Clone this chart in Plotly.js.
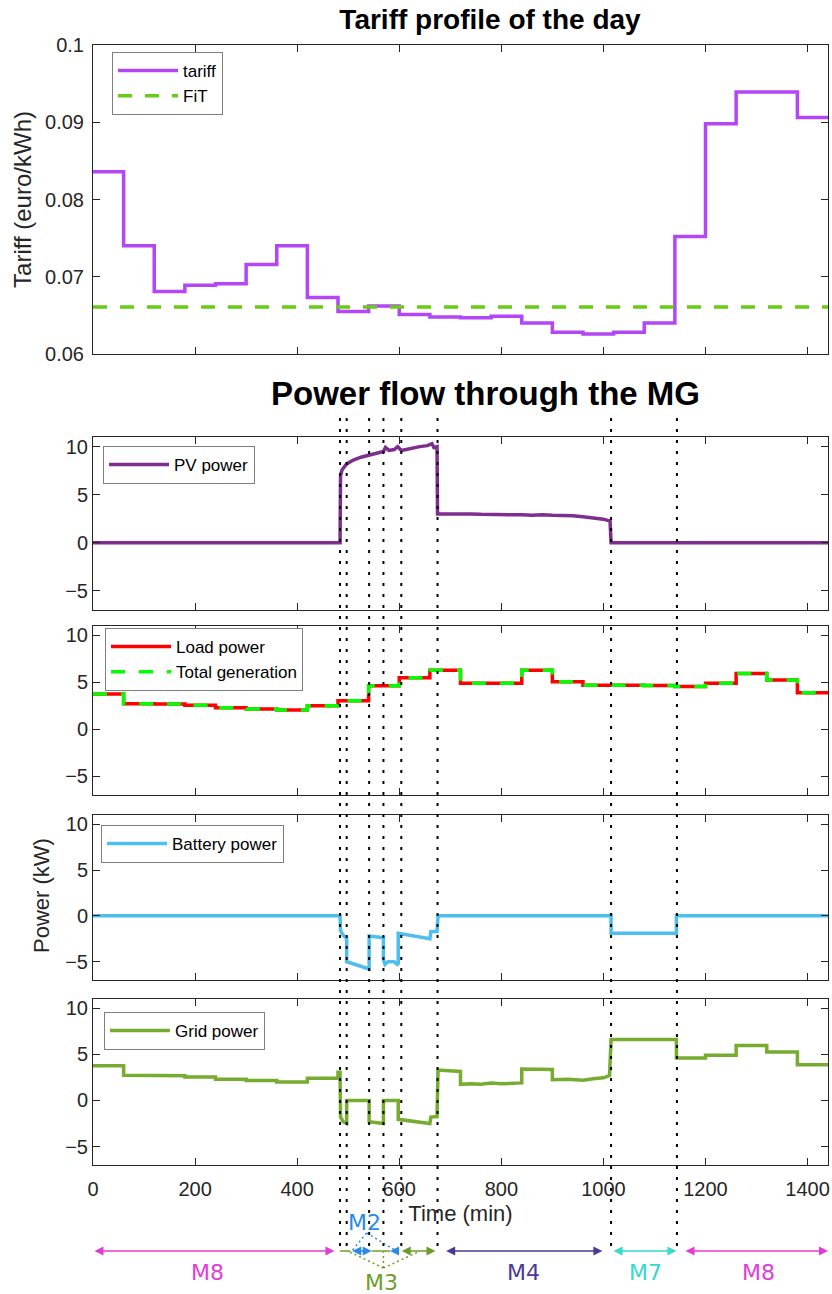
<!DOCTYPE html>
<html><head><meta charset="utf-8">
<script src="https://cdn.plot.ly/plotly-3.0.1.min.js"></script>
<style>html,body{margin:0;padding:0;background:#fff}#chart{width:832px;height:1294px}</style>
</head><body><div id="chart"></div>
<script>
// ---------- DATA ----------
const tariffTime  = [0,60,120,180,240,300,360,420,480,540,600,660,720,780,840,900,960,1020,1080,1140,1200,1260,1320,1380,1440];
const tariffValue = [0.0836,0.0740,0.0681,0.0689,0.0691,0.0716,0.0740,0.0673,0.0655,0.0662,0.0651,0.0648,0.0647,0.0649,0.0640,0.0628,0.0626,0.0628,0.0640,0.0752,0.0898,0.0939,0.0939,0.0906,0.0906];
const fitTime  = [0,1440];
const fitValue = [0.0661,0.0661];

const pvTime  = [0,484,485,488,497,510,525,541,555,569,573,580,590,597,604,620,640,655,664,668,674,675,700,720,740,760,780,800,820,840,860,880,900,920,940,960,980,1000,1013,1015,1440];
const pvPower = [0,0,7.0,7.6,8.2,8.6,8.9,9.1,9.3,9.5,9.9,9.6,9.7,10.0,9.6,9.8,10.0,10.1,10.3,9.9,10.0,3.0,3.0,3.05,3.0,2.95,2.95,2.95,2.9,2.9,2.85,2.9,2.85,2.85,2.8,2.7,2.6,2.45,2.25,0,0];

const loadTime  = [0,60,120,180,240,300,360,420,480,540,600,660,720,780,840,900,960,1020,1080,1140,1200,1260,1320,1380,1440];
const loadPower = [3.76,2.72,2.68,2.55,2.3,2.15,2.05,2.5,3.05,4.63,5.5,6.3,4.9,4.9,6.3,5.05,4.68,4.68,4.65,4.55,4.9,5.95,5.24,3.88,3.88];
const genPower  = [3.76,2.72,2.68,2.55,2.3,2.15,2.05,2.5,3.05,4.63,5.5,6.3,4.9,4.9,6.3,5.05,4.68,4.68,4.65,4.55,4.9,5.95,5.24,3.88,3.88];

const battTime  = [0,484,485,490,497,497,541,541,569,569,572,578,590,596,598,598,660,662,674,676,1015,1015,1143,1143,1440];
const battPower = [0,0,-1.6,-2.1,-2.45,-5.0,-5.8,-2.2,-2.4,-4.8,-5.3,-5.0,-5.0,-5.3,-5.2,-1.9,-2.5,-1.7,-1.7,0,0,-1.9,-1.9,0,0];

const gridTime  = [0,60,60,120,120,180,180,240,240,300,300,360,360,420,420,480,480,484,485,490,497,497,541,541,569,569,598,598,660,662,674,676,720,720,740,760,780,800,840,840,900,900,930,960,980,1000,1012,1015,1143,1143,1200,1200,1260,1260,1320,1320,1380,1380,1440];
const gridPower = [3.76,3.76,2.72,2.72,2.68,2.68,2.55,2.55,2.3,2.3,2.15,2.15,2.0,2.0,2.4,2.4,3.05,3.05,-1.8,-2.3,-2.5,0.0,0.0,-2.3,-2.5,0.0,0.0,-2.05,-2.5,-1.8,-1.75,3.3,3.15,1.75,1.8,1.75,1.9,1.8,1.9,3.4,3.35,2.25,2.3,2.2,2.35,2.45,2.7,6.6,6.6,4.6,4.6,4.9,4.9,5.95,5.95,5.24,5.24,3.88,3.88];

// mode switching instants (min)
const switchTimes = [484,497,541,569,604,675,1015,1144];
// operating-mode intervals drawn under the time axis
const modeName  = ['M8','M3','M2','M3','M2','M3','M4','M7','M8'];
const modeStart = [0,484,505,546,582,602,689,1017,1158];
const modeEnd   = [473,504,546,582,599,671,998,1143,1440];

// ---------- STYLE / LAYOUT ----------
const modeColor = {M8:'#e33cd6', M2:'#2a8ae6', M3:'#6e9c2b', M4:'#4b3a96', M7:'#34d9cf'};
const modeHeads = ['end+start','none','end+start','none','end','end+start','end+start','end+start','end+start'];

const W = 832, H = 1294, ML = 93, MR = 4, MT = 45, MB = 129;
const PH = H - MT - MB;
const py = px => (H - MB - px) / PH;       // pixel row -> paper y
const dom = (top, bot) => [py(bot), py(top)];

const tickFont = {family:'Liberation Sans, Arial, sans-serif', size:20, color:'#262626'};
const axBase = {
  showline:true, linecolor:'#262626', linewidth:1, mirror:'ticks',
  ticks:'inside', ticklen:7, tickcolor:'#262626', tickwidth:1,
  showgrid:false, zeroline:false, tickfont:tickFont, fixedrange:true
};
const xBase = Object.assign({}, axBase, {range:[0,1440], tickvals:[0,200,400,600,800,1000,1200,1400], showticklabels:false});
const yPow  = Object.assign({}, axBase, {range:[-7,11], tickvals:[-5,0,5,10]});

const traces = [
  {x:tariffTime, y:tariffValue, xaxis:'x', yaxis:'y', name:'tariff', legend:'legend',
   mode:'lines', line:{color:'#b347f5', width:3.5, shape:'hv'}},
  {x:fitTime, y:fitValue, xaxis:'x', yaxis:'y', name:'FiT', legend:'legend',
   mode:'lines', line:{color:'#66cc14', width:3.5, dash:'14px,13px'}},
  {x:pvTime, y:pvPower, xaxis:'x2', yaxis:'y2', name:'PV power', legend:'legend2',
   mode:'lines', line:{color:'#7e2f8e', width:3.5}},
  {x:loadTime, y:loadPower, xaxis:'x3', yaxis:'y3', name:'Load power', legend:'legend3',
   mode:'lines', line:{color:'#ff0000', width:3.5, shape:'hv'}},
  {x:loadTime, y:genPower, xaxis:'x3', yaxis:'y3', name:'Total generation', legend:'legend3',
   mode:'lines', line:{color:'#00ff00', width:3.5, shape:'hv', dash:'14px,14px'}},
  {x:battTime, y:battPower, xaxis:'x4', yaxis:'y4', name:'Battery power', legend:'legend4',
   mode:'lines', line:{color:'#4dbeee', width:3.5}},
  {x:gridTime, y:gridPower, xaxis:'x5', yaxis:'y5', name:'Grid power', legend:'legend5',
   mode:'lines', line:{color:'#77ac30', width:3.5}}
];

const legBase = {xanchor:'left', yanchor:'top', bgcolor:'#ffffff', bordercolor:'#7f7f7f', borderwidth:1,
  font:{family:'Liberation Sans, Arial, sans-serif', size:17, color:'#000'}, itemwidth:60, tracegroupgap:0};
const lg = (pxX, pxY) => Object.assign({}, legBase, {x:(pxX-ML)/(W-ML-MR), y:py(pxY)});

const shapes = [];
switchTimes.forEach((t, i) => {
  shapes.push({type:'line', xref:'x5', yref:'paper', x0:t, x1:t,
    y0:py(1246), y1:py(i < 6 ? 412 : 418),
    line:{color:'#000', width:2, dash:'3px,8px'}, layer:'above'});
});

const annotations = [];
modeName.forEach((m, i) => {
  const yA = py(1251);
  if (modeHeads[i] === 'none') {
    shapes.push({type:'line', xref:'x5', yref:'paper', x0:modeStart[i], x1:modeEnd[i], y0:yA, y1:yA,
      line:{color:modeColor[m], width:1.5}});
  } else if (modeHeads[i] === 'end') {
    annotations.push({xref:'x5', yref:'paper', axref:'x5', ayref:'paper', x:modeStart[i], y:yA, ax:modeEnd[i], ay:yA,
      text:'', showarrow:true, arrowhead:2, arrowsize:1.2, arrowwidth:1.5, arrowcolor:modeColor[m],
      arrowside:'end', standoff:0, startstandoff:0});
  } else {
    annotations.push({xref:'x5', yref:'paper', axref:'x5', ayref:'paper', x:modeEnd[i], y:yA, ax:modeStart[i], ay:yA,
      text:'', showarrow:true, arrowhead:2, startarrowhead:2, arrowsize:1.2, startarrowsize:1.2, arrowwidth:1.5,
      arrowcolor:modeColor[m], arrowside:'end+start', standoff:0, startstandoff:0});
  }
});
// leader lines from the M2 / M3 labels
[[536,1233,507,1251],[536,1233,595,1251]].forEach(s => shapes.push({type:'line', xref:'x5', yref:'paper',
  x0:s[0], y0:py(s[1]), x1:s[2], y1:py(s[3]), line:{color:modeColor.M2, width:1.5, dash:'2px,3px'}}));
[[569,1268,503,1252],[569,1268,569,1252],[569,1268,637,1252]].forEach(s => shapes.push({type:'line', xref:'x5', yref:'paper',
  x0:s[0], y0:py(s[1]), x1:s[2], y1:py(s[3]), line:{color:modeColor.M3, width:1.5, dash:'2px,3px'}}));

const labFont = c => ({family:'DejaVu Sans, sans-serif', size:22, color:c});
[['M8',224,1272],['M2',532,1222],['M3',565,1282],['M4',844,1272],['M7',1083,1272],['M8',1303,1272]].forEach(l => {
  annotations.push({xref:'x5', yref:'paper', x:l[1], y:py(l[2]), text:l[0], showarrow:false,
    xanchor:'center', yanchor:'middle', font:labFont(modeColor[l[0]])});
});

annotations.push({xref:'paper', yref:'paper', x:(485-ML)/(W-ML-MR), y:py(393), text:'<b>Power flow through the MG</b>',
  showarrow:false, xanchor:'center', yanchor:'middle',
  font:{family:'Liberation Sans, Arial, sans-serif', size:33, color:'#000'}});
annotations.push({xref:'paper', yref:'paper', x:(41-ML)/(W-ML-MR), y:py(895), text:'Power (kW)', textangle:-90,
  showarrow:false, xanchor:'center', yanchor:'middle',
  font:{family:'Liberation Sans, Arial, sans-serif', size:22, color:'#262626'}});

const layout = {
  width:W, height:H, margin:{l:ML, r:MR, t:MT, b:MB, pad:0},
  paper_bgcolor:'#fff', plot_bgcolor:'#fff', showlegend:true,
  title:{text:'<b>Tariff profile of the day</b>', x:490/W, xref:'container', xanchor:'center',
    y:1-19/H, yref:'container', yanchor:'middle',
    font:{family:'Liberation Sans, Arial, sans-serif', size:28, color:'#000'}},
  xaxis: Object.assign({}, xBase, {domain:[0,1], anchor:'y'}),
  yaxis: Object.assign({}, axBase, {domain:dom(45,354), anchor:'x', range:[0.06,0.1], tick0:0.06, dtick:0.01,
    ticklabelstandoff:4,
    title:{text:'Tariff (euro/kWh)', standoff:6, font:{family:'Liberation Sans, Arial, sans-serif', size:24, color:'#262626'}}}),
  xaxis2: Object.assign({}, xBase, {domain:[0,1], anchor:'y2'}),
  yaxis2: Object.assign({}, yPow, {domain:dom(437,610), anchor:'x2'}),
  xaxis3: Object.assign({}, xBase, {domain:[0,1], anchor:'y3'}),
  yaxis3: Object.assign({}, yPow, {domain:dom(626,795), anchor:'x3'}),
  xaxis4: Object.assign({}, xBase, {domain:[0,1], anchor:'y4'}),
  yaxis4: Object.assign({}, yPow, {domain:dom(815,980), anchor:'x4'}),
  xaxis5: Object.assign({}, xBase, {domain:[0,1], anchor:'y5', showticklabels:true, ticklabelstandoff:6,
    title:{text:'Time (min)', standoff:6, font:{family:'Liberation Sans, Arial, sans-serif', size:22, color:'#262626'}}}),
  yaxis5: Object.assign({}, yPow, {domain:dom(999,1165), anchor:'x5'}),
  legend:  lg(112, 52),
  legend2: lg(103, 446),
  legend3: lg(105, 628),
  legend4: lg(101, 825),
  legend5: lg(104, 1012),
  shapes: shapes,
  annotations: annotations
};

Plotly.newPlot('chart', traces, layout, {staticPlot:true, displayModeBar:false});
</script></body></html>
